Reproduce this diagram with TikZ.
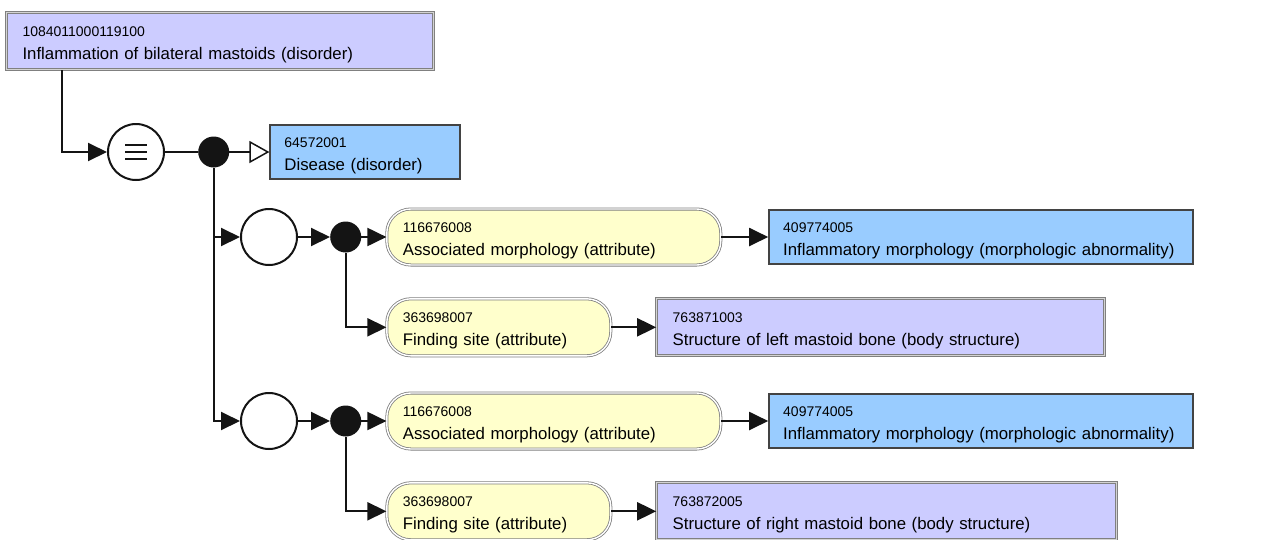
\documentclass[tikz,border=0pt]{standalone}
\usepackage{fontspec}
\setmainfont{Liberation Sans}
\definecolor{snoPurple}{RGB}{204,204,255}
\definecolor{snoBlue}{RGB}{153,204,255}
\definecolor{snoYellow}{RGB}{255,255,204}
\definecolor{snoGray}{RGB}{128,128,128}
\definecolor{snoDark}{RGB}{20,20,20}
\usetikzlibrary{positioning,arrows.meta}
\newcommand{\cid}[1]{{\fontsize{14}{23}\selectfont\rule{0pt}{16.5pt}#1}}

\begin{document}
\begin{tikzpicture}[
  x=1pt, y=1pt,
  node distance=30pt,
  every node/.style={font=\fontsize{16.8}{23}\selectfont},
  defbox/.style={
    draw=snoGray, double=snoGray!35, line width=1pt, double distance=1.2pt,
    fill=snoPurple, minimum height=57pt, inner xsep=16pt, align=left
  },
  primbox/.style={
    draw=snoDark!80, line width=2pt, fill=snoBlue, minimum height=54pt,
    inner xsep=14pt, align=left
  },
  attrbox/.style={
    draw=snoGray, double=white, line width=0.8pt, double distance=1.4pt,
    fill=snoYellow, rounded corners=24pt, minimum height=56pt,
    inner xsep=16pt, align=left
  },
  opnode/.style={circle, draw=snoDark, line width=2pt, fill=white, minimum size=56pt, inner sep=0pt},
  joint/.style={circle, fill=snoDark, minimum size=31pt, inner sep=0pt},
  arr/.style={-{Triangle[length=19pt,width=18pt]}, draw=snoDark, line width=2pt},
  isa/.style={-{Triangle[open,length=20pt,width=22pt,line width=1.5pt]}, draw=snoDark, line width=2pt},
  link/.style={draw=snoDark, line width=2pt}
]
  \useasboundingbox (0,0) rectangle (1271,-539);

  \node[defbox, text width=395pt] (R) at (220,-41)
    {\cid{1084011000119100}\\Inflammation of bilateral mastoids (disorder)};

  \node[opnode] (EQ) at (136,-152) {};
  \foreach \dy in {-7,0,7}
    \draw[line width=2pt, snoDark] ([xshift=-11pt, yshift=\dy pt]EQ.center) -- ++(22pt,0);
  \node[joint, right=33pt of EQ] (J0) {};
  \node[primbox, text width=162pt, right=40pt of J0] (DIS)
    {\cid{64572001}\\Disease (disorder)};

  \node[opnode] (G1) at (269,-237) {};
  \node[joint, right=32pt of G1] (J1) {};
  \node[attrbox, text width=302pt, right=25pt of J1] (AM1)
    {\cid{116676008}\\Associated morphology (attribute)};
  \node[primbox, text width=396pt, right=47pt of AM1] (IM1)
    {\cid{409774005}\\Inflammatory morphology (morphologic abnormality)};
  \node[attrbox, text width=192pt, minimum height=57pt, below=33pt of AM1.south west, anchor=north west] (FS1)
    {\cid{363698007}\\Finding site (attribute)};
  \node[defbox, text width=416pt, right=45pt of FS1] (ST1)
    {\cid{763871003}\\Structure of left mastoid bone (body structure)};

  \node[opnode] (G2) at (269,-421) {};
  \node[joint, right=32pt of G2] (J2) {};
  \node[attrbox, text width=302pt, right=25pt of J2] (AM2)
    {\cid{116676008}\\Associated morphology (attribute)};
  \node[primbox, text width=396pt, right=47pt of AM2] (IM2)
    {\cid{409774005}\\Inflammatory morphology (morphologic abnormality)};
  \node[attrbox, text width=192pt, minimum height=57pt, below=33pt of AM2.south west, anchor=north west] (FS2)
    {\cid{363698007}\\Finding site (attribute)};
  \node[defbox, text width=428pt, right=45pt of FS2] (ST2)
    {\cid{763872005}\\Structure of right mastoid bone (body structure)};

  \draw[arr] ([xshift=55.5pt]R.south west) |- (EQ);
  \draw[link] (EQ) -- (J0);
  \draw[isa] (J0) -- (DIS);
  \draw[arr] (J0.south) |- (G1);
  \draw[arr] (J0.south) |- (G2);
  \draw[arr] (G1) -- (J1);
  \draw[arr] (J1) -- (AM1);
  \draw[arr] (AM1) -- (IM1);
  \draw[arr] (J1.south) |- (FS1);
  \draw[arr] (FS1) -- (ST1);
  \draw[arr] (G2) -- (J2);
  \draw[arr] (J2) -- (AM2);
  \draw[arr] (AM2) -- (IM2);
  \draw[arr] (J2.south) |- (FS2);
  \draw[arr] (FS2) -- (ST2);
\end{tikzpicture}
\end{document}
